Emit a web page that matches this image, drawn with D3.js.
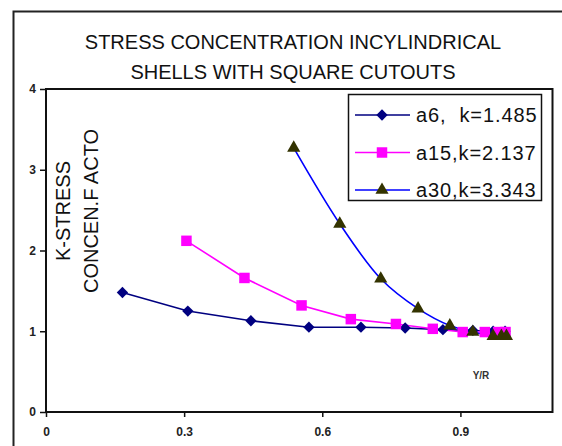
<!DOCTYPE html>
<html>
<head>
<meta charset="utf-8">
<script src="https://cdn.jsdelivr.net/npm/d3@7"></script>
<style>
  body { margin: 0; background: #fff; }
  svg { display: block; font-family: "Liberation Sans", Arial, sans-serif; }
</style>
</head>
<body>
<svg width="562" height="446"></svg>
<script>
// series (x = Y/R, y = K)
const a6X = [0.166, 0.308, 0.445, 0.571, 0.684, 0.78, 0.862, 0.927, 0.971, 0.997];
const a6Y = [1.48, 1.25, 1.13, 1.05, 1.05, 1.04, 1.02, 1.01, 1.0, 1.0];
const a15X = [0.305, 0.431, 0.555, 0.662, 0.76, 0.84, 0.905, 0.953, 0.982, 0.998];
const a15Y = [2.12, 1.66, 1.32, 1.15, 1.09, 1.03, 0.99, 0.99, 0.99, 0.99];
const a30X = [0.538, 0.638, 0.727, 0.808, 0.877, 0.927, 0.971, 0.989, 1.0];
const a30Y = [3.27, 2.33, 1.65, 1.28, 1.07, 0.99, 0.94, 0.94, 0.94];
const seriesNames = ["a6,\u00a0 k=1.485", "a15,k=2.137", "a30,k=3.343"];
const xTicks = [0, 0.3, 0.6, 0.9];
const yTicks = [0, 1, 2, 3, 4];
const titleLines = ["STRESS CONCENTRATION INCYLINDRICAL", "SHELLS WITH SQUARE CUTOUTS"];
const yLabelLines = ["K-STRESS", "CONCEN.F ACTO"];

let svg = d3.select("svg");

// outer chart frame (runs off the picture on the right and bottom)
svg.append("rect")
  .attr("x", 13.5).attr("y", 11.5)
  .attr("width", 600).attr("height", 500)
  .attr("fill", "#fff").attr("stroke", "#222").attr("stroke-width", 2);

let plotL = 46, plotR = 552.5, plotT = 89, plotB = 412;
let x = d3.scaleLinear().domain([0, 1.1]).range([plotL, plotR]);
let y = d3.scaleLinear().domain([0, 4]).range([plotB, plotT]);

// title
svg.append("g").selectAll("text")
  .data(titleLines)
  .enter().append("text")
  .attr("x", 293).attr("y", (d, i) => 49 + i * 30)
  .attr("text-anchor", "middle")
  .attr("font-size", 20)
  .attr("fill", "#111")
  .text(d => d);

// plot area frame
svg.append("rect")
  .attr("x", plotL).attr("y", plotT)
  .attr("width", plotR - plotL).attr("height", plotB - plotT)
  .attr("fill", "#fff").attr("stroke", "#111").attr("stroke-width", 2);

let yAxis = svg.append("g")
  .attr("transform", `translate(${plotL},0)`)
  .call(d3.axisLeft(y).tickValues(yTicks).tickSize(6).tickPadding(4).tickFormat(d3.format("d")));
let xAxis = svg.append("g")
  .attr("transform", `translate(0,${plotB})`)
  .call(d3.axisBottom(x).tickValues(xTicks).tickSize(5).tickPadding(10).tickFormat(d => d === 0 ? "0" : d3.format(".1f")(d)));
[yAxis, xAxis].forEach(ax => {
  ax.select(".domain").remove();
  ax.selectAll("line").attr("stroke", "#111").attr("stroke-width", 1.5);
  ax.selectAll("text").attr("font-size", 12).attr("font-weight", "bold")
    .attr("font-family", "Liberation Sans, Arial, sans-serif").attr("fill", "#222");
});

// y label, two rotated lines
svg.append("g").selectAll("text")
  .data(yLabelLines)
  .enter().append("text")
  .attr("transform", (d, i) => `translate(${70 + i * 28},211) rotate(-90)`)
  .attr("text-anchor", "middle")
  .attr("font-size", 20)
  .attr("fill", "#111")
  .text(d => d);

svg.append("text")
  .attr("x", 481).attr("y", 379)
  .attr("text-anchor", "middle")
  .attr("font-size", 10).attr("font-weight", "bold")
  .attr("fill", "#333")
  .text("Y/R");

let series = [
  { xs: a6X, ys: a6Y, line: "#000080", fill: "#000080", shape: "diamond", curve: d3.curveLinear },
  { xs: a15X, ys: a15Y, line: "#ff00ff", fill: "#ff00ff", shape: "square", curve: d3.curveLinear },
  { xs: a30X, ys: a30Y, line: "#0000ff", fill: "#333300", shape: "triangle", curve: d3.curveCatmullRom }
];

let marker = shape => {
  if (shape === "diamond") return d3.symbol(d3.symbolSquare, 64)();
  if (shape === "square") return d3.symbol(d3.symbolSquare, 110)();
  return d3.symbol(d3.symbolTriangle, 75)();
};
let markerRot = shape => shape === "diamond" ? " rotate(45)" : "";

series.forEach(s => {
  let pts = s.xs.map((v, i) => [v, s.ys[i]]);
  svg.append("path")
    .datum(pts)
    .attr("fill", "none")
    .attr("stroke", s.line)
    .attr("stroke-width", 1.6)
    .attr("d", d3.line().x(d => x(d[0])).y(d => y(d[1])).curve(s.curve));
});
series.forEach(s => {
  let pts = s.xs.map((v, i) => [v, s.ys[i]]);
  svg.append("g").selectAll("path")
    .data(pts)
    .enter().append("path")
    .attr("transform", d => `translate(${x(d[0])},${y(d[1])})${markerRot(s.shape)}`)
    .attr("d", marker(s.shape))
    .attr("fill", s.fill);
});

// legend
let legend = svg.append("g");
legend.append("rect")
  .attr("x", 348.5).attr("y", 94.5)
  .attr("width", 193).attr("height", 106)
  .attr("fill", "#fff").attr("stroke", "#111").attr("stroke-width", 1.5);
let rows = legend.selectAll("g.row")
  .data(series)
  .enter().append("g")
  .attr("class", "row")
  .attr("transform", (d, i) => `translate(0,${115 + i * 37.5})`);
rows.append("line")
  .attr("x1", 355).attr("x2", 410)
  .attr("stroke", d => d.line).attr("stroke-width", 1.6);
rows.append("path")
  .attr("transform", d => `translate(382,0)${markerRot(d.shape)}`)
  .attr("d", d => marker(d.shape))
  .attr("fill", d => d.fill);
rows.append("text")
  .attr("x", 416).attr("y", 7)
  .attr("font-size", 20)
  .attr("letter-spacing", 0.9)
  .attr("fill", "#111")
  .text((d, i) => seriesNames[i]);
</script>
</body>
</html>
